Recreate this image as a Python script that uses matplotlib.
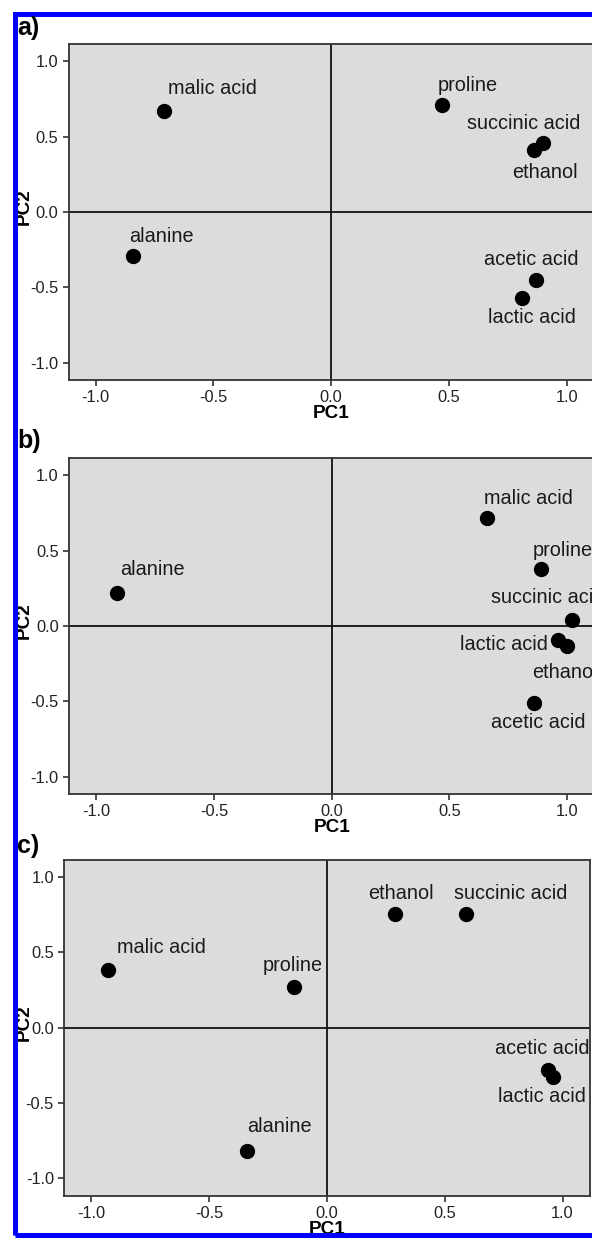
import numpy as np
import matplotlib
matplotlib.use("Agg")
import matplotlib.pyplot as plt
from matplotlib.patches import Rectangle

plt.rcParams['font.family'] = ['Liberation Sans', 'DejaVu Sans']
plt.rcParams['axes.unicode_minus'] = False

# PCA loadings
names_a = ['malic acid', 'proline', 'succinic acid', 'ethanol', 'acetic acid', 'lactic acid', 'alanine']
pc1_a = [-0.71, 0.47, 0.90, 0.86, 0.87, 0.81, -0.84]
pc2_a = [0.67, 0.71, 0.46, 0.41, -0.45, -0.57, -0.29]

names_b = ['malic acid', 'proline', 'succinic acid', 'lactic acid', 'ethanol', 'acetic acid', 'alanine']
pc1_b = [0.66, 0.89, 1.02, 0.96, 1.00, 0.86, -0.91]
pc2_b = [0.72, 0.38, 0.04, -0.09, -0.13, -0.51, 0.22]

names_c = ['ethanol', 'succinic acid', 'malic acid', 'proline', 'acetic acid', 'lactic acid', 'alanine']
pc1_c = [0.29, 0.59, -0.93, -0.14, 0.94, 0.96, -0.34]
pc2_c = [0.75, 0.75, 0.38, 0.27, -0.28, -0.33, -0.82]

ticks = [-1.0, -0.5, 0.0, 0.5, 1.0]
tick_labels = ['-1.0', '-0.5', '0.0', '0.5', '1.0']

# label placement: (dx px, dy px, ha) relative to the dot, dy positive = up
offs_a = [(4, 23, 'left'), (-4, 20, 'left'), (-19, 19, 'center'), (11, -22, 'center'),
          (-5, 20, 'center'), (10, -20, 'center'), (-4, 19, 'left')]
offs_b = [(-3, 19, 'left'), (-9, 18, 'left'), (-81, 22, 'left'), (-10, -5, 'right'),
          (-35, -27, 'left'), (4, -20, 'center'), (3, 23, 'left')]
offs_c = [(6, 21, 'center'), (-12, 21, 'left'), (9, 23, 'left'), (-31, 21, 'left'),
          (-6, 21, 'center'), (-11, -19, 'center'), (0, 25, 'left')]

W, H = 592, 1239
fig = plt.figure(figsize=(W / 100, H / 100), dpi=100)

# axes boxes in pixels: left, top, width, height
boxes = [(68.6, 44, 525.2, 336), (69.1, 458, 525.2, 336), (64.4, 859.5, 525.2, 336)]
panels = [('a)', names_a, pc1_a, pc2_a, offs_a, 28),
          ('b)', names_b, pc1_b, pc2_b, offs_b, 441),
          ('c)', names_c, pc1_c, pc2_c, offs_c, 846)]

lim = 1.115
for (l, t, w, h), (tag, names, xs, ys, offs, tag_y) in zip(boxes, panels):
    ax = fig.add_axes([l / W, 1 - (t + h) / H, w / W, h / H])
    ax.set_facecolor('#dcdcdc')
    ax.set_xlim(-lim, lim)
    ax.set_ylim(-lim, lim)
    ax.axhline(0, color='#111111', lw=1.3, zorder=1)
    ax.axvline(0, color='#111111', lw=1.3, zorder=1)
    ax.plot(xs, ys, 'o', color='black', ms=10, zorder=3)
    for name, x, y, (dx, dy, ha) in zip(names, xs, ys, offs):
        ax.annotate(name, (x, y), xytext=(dx * 0.72, dy * 0.72), textcoords='offset points',
                    ha=ha, va='center', fontsize=14.3, color='#1a1a1a', zorder=4)
    ax.set_xticks(ticks)
    ax.set_xticklabels(tick_labels)
    ax.set_yticks(ticks)
    ax.set_yticklabels(tick_labels)
    ax.tick_params(direction='out', length=4.5, width=1.2, color='#333333',
                   labelsize=11.8, labelcolor='#222222', pad=3)
    for sp in ax.spines.values():
        sp.set_color('#333333')
        sp.set_linewidth(1.3)
    ax.set_xlabel('PC1', fontsize=13.6, fontweight='bold', labelpad=0)
    ax.set_ylabel('PC2', fontsize=13.6, fontweight='bold')
    ax.yaxis.set_label_coords((33 - l) / w, 0.515)
    fig.text(17 / W, 1 - tag_y / H, tag, fontsize=18, fontweight='bold', va='center', ha='left')

# blue frame around the figure (right side cropped off)
frame = Rectangle((14.5 / W, (H - 1235) / H), 1.2, (1235 - 13.5) / H,
                  transform=fig.transFigure, fill=False, edgecolor='#0000ff',
                  linewidth=3.6, clip_on=False)
fig.add_artist(frame)

fig.savefig('out.png', dpi=100)
